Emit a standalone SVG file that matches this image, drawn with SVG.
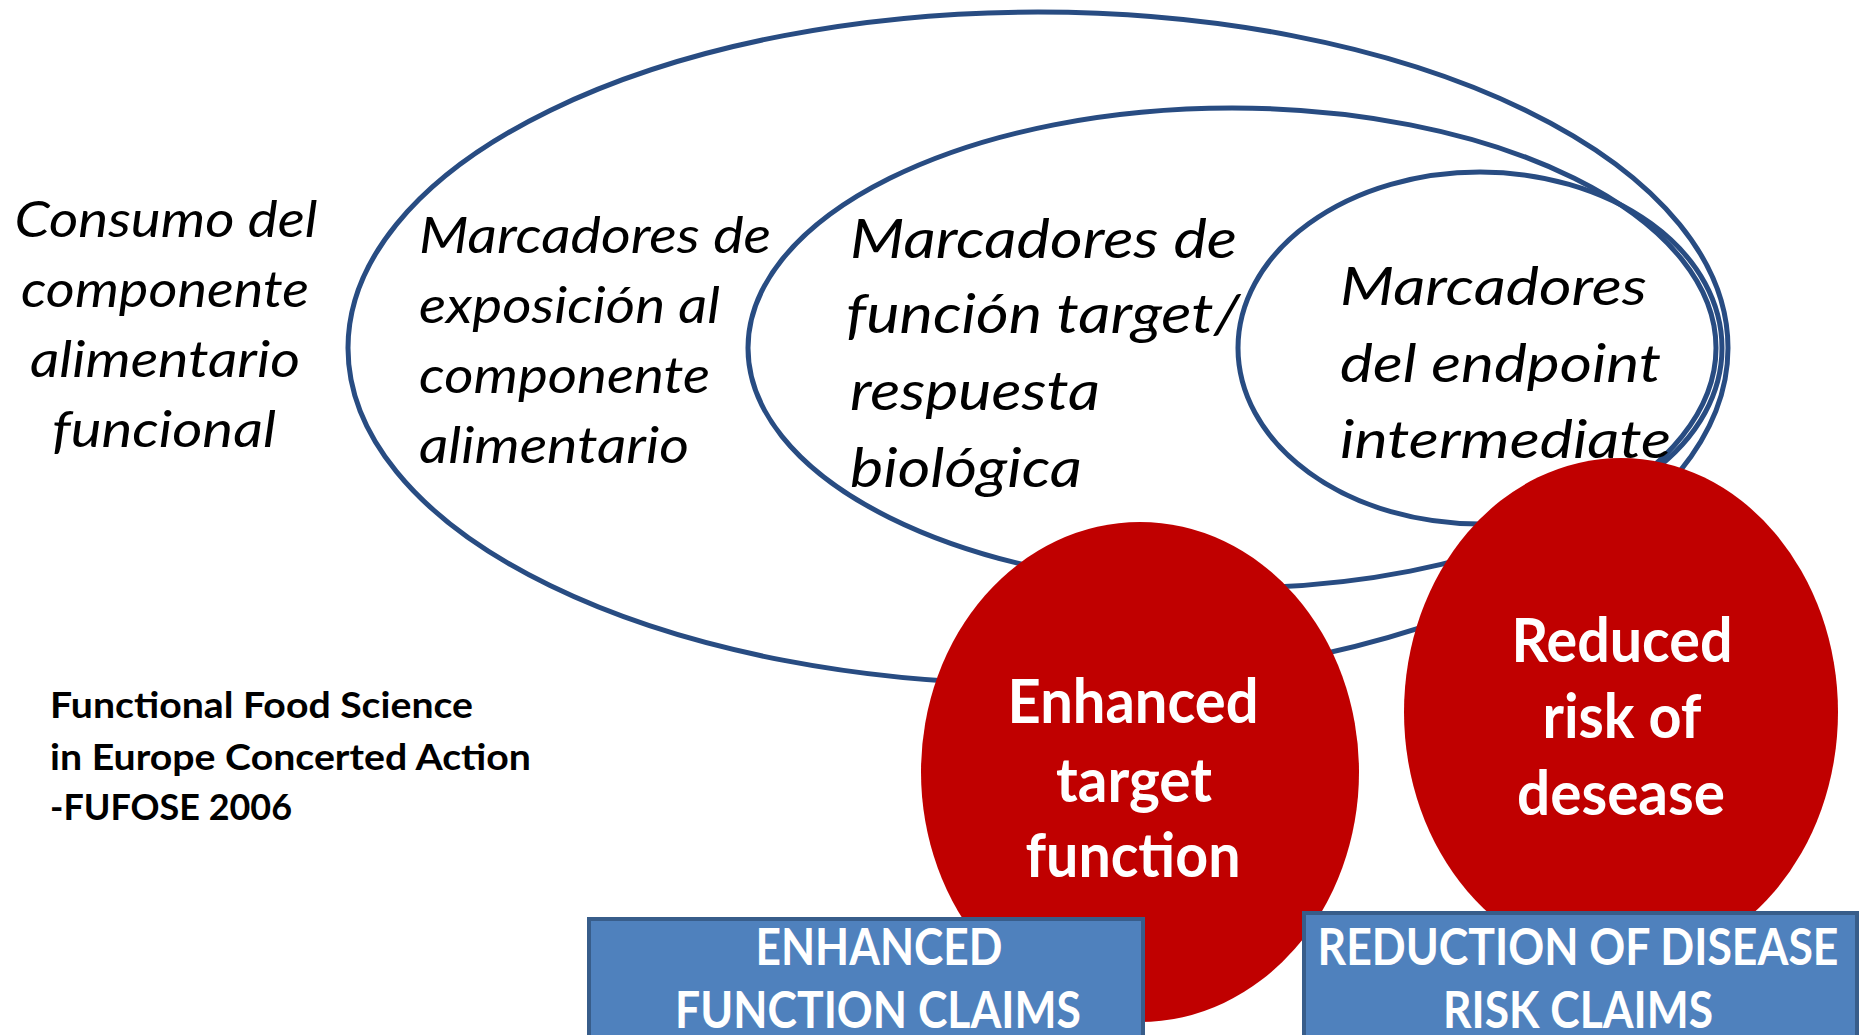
<svg xmlns="http://www.w3.org/2000/svg" width="1863" height="1035" viewBox="0 0 1863 1035">
<style>
.ring{fill:none;stroke:#284C82;stroke-width:5}
.red{fill:#C00000}
.box{fill:#4F81BD;stroke:#385D8A;stroke-width:4}
.it{font-family:Lato,"Open Sans","DejaVu Sans",sans-serif;font-style:italic;fill:#000}
.wb{font-family:Lato,"Open Sans","DejaVu Sans",sans-serif;font-weight:bold;fill:#fff;text-anchor:middle}
.bb{font-family:Lato,"Open Sans","DejaVu Sans",sans-serif;font-weight:bold;fill:#000}
</style>
<rect width="1863" height="1035" fill="#fff"/>
<g id="connectors"></g>
<g id="consumo">
<text class="it" font-size="51" text-anchor="middle"><tspan x="166" y="237" textLength="303" lengthAdjust="spacingAndGlyphs">Consumo del</tspan></text>
<text class="it" font-size="51" text-anchor="middle"><tspan x="165" y="307" textLength="288" lengthAdjust="spacingAndGlyphs">componente</tspan></text>
<text class="it" font-size="51" text-anchor="middle"><tspan x="165" y="377" textLength="270" lengthAdjust="spacingAndGlyphs">alimentario</tspan></text>
<text class="it" font-size="51" text-anchor="middle"><tspan x="164" y="447" textLength="224" lengthAdjust="spacingAndGlyphs">funcional</tspan></text>
</g>
<g id="exposicion">
<ellipse class="ring" cx="1038" cy="348" rx="690" ry="336"/>
<text class="it" font-size="50" x="419" y="253" textLength="352" lengthAdjust="spacingAndGlyphs">Marcadores de</text>
<text class="it" font-size="50" x="419" y="323" textLength="301" lengthAdjust="spacingAndGlyphs">exposición al</text>
<text class="it" font-size="50" x="419" y="393" textLength="291" lengthAdjust="spacingAndGlyphs">componente</text>
<text class="it" font-size="50" x="419" y="463" textLength="270" lengthAdjust="spacingAndGlyphs">alimentario</text>
</g>
<g id="funcion">
<ellipse class="ring" cx="1232" cy="348" rx="484" ry="240"/>
<text class="it" font-size="55" x="850" y="258" textLength="387" lengthAdjust="spacingAndGlyphs">Marcadores de</text>
<text class="it" font-size="55" x="846" y="333" textLength="394" lengthAdjust="spacingAndGlyphs">función target/</text>
<text class="it" font-size="55" x="850" y="410" textLength="250" lengthAdjust="spacingAndGlyphs">respuesta</text>
<text class="it" font-size="55" x="850" y="487" textLength="232" lengthAdjust="spacingAndGlyphs">biológica</text>
</g>
<g id="endpoint">
<ellipse class="ring" cx="1480" cy="348" rx="242" ry="176"/>
<text class="it" font-size="53" x="1340" y="305" textLength="307" lengthAdjust="spacingAndGlyphs">Marcadores</text>
<text class="it" font-size="53" x="1340" y="382" textLength="321" lengthAdjust="spacingAndGlyphs">del endpoint</text>
<text class="it" font-size="53" x="1340" y="458" textLength="331" lengthAdjust="spacingAndGlyphs">intermediate</text>
</g>
<g id="fufose">
<text class="bb" font-size="36" x="50" y="718" textLength="423" lengthAdjust="spacingAndGlyphs">Functional Food Science</text>
<text class="bb" font-size="36" x="50" y="770" textLength="481" lengthAdjust="spacingAndGlyphs">in Europe Concerted Action</text>
<text class="bb" font-size="36" x="50" y="820" textLength="242" lengthAdjust="spacingAndGlyphs">-FUFOSE 2006</text>
</g>
<g id="enhanced-target">
<ellipse class="red" cx="1140" cy="772" rx="219" ry="250"/>
<text class="wb" font-size="62" x="1133" y="723" textLength="251" lengthAdjust="spacingAndGlyphs">Enhanced</text>
<text class="wb" font-size="62" x="1134" y="802" textLength="156" lengthAdjust="spacingAndGlyphs">target</text>
<text class="wb" font-size="62" x="1133" y="877" textLength="215" lengthAdjust="spacingAndGlyphs">function</text>
</g>
<g id="reduced-risk">
<ellipse class="red" cx="1621" cy="712" rx="217" ry="254"/>
<text class="wb" font-size="62" x="1622" y="662" textLength="221" lengthAdjust="spacingAndGlyphs">Reduced</text>
<text class="wb" font-size="62" x="1622" y="738" textLength="159" lengthAdjust="spacingAndGlyphs">risk of</text>
<text class="wb" font-size="62" x="1621" y="815" textLength="208" lengthAdjust="spacingAndGlyphs">desease</text>
</g>
<g id="enhanced-claims">
<rect class="box" x="589" y="919" width="554" height="130"/>
<text class="wb" font-size="51" x="879" y="965" textLength="247" lengthAdjust="spacingAndGlyphs">ENHANCED</text>
<text class="wb" font-size="51" x="878" y="1028" textLength="406" lengthAdjust="spacingAndGlyphs">FUNCTION CLAIMS</text>
</g>
<g id="risk-claims">
<rect class="box" x="1304" y="913" width="553" height="136"/>
<text class="wb" font-size="51" x="1578" y="965" textLength="521" lengthAdjust="spacingAndGlyphs">REDUCTION OF DISEASE</text>
<text class="wb" font-size="51" x="1578" y="1028" textLength="270" lengthAdjust="spacingAndGlyphs">RISK CLAIMS</text>
</g>
</svg>
